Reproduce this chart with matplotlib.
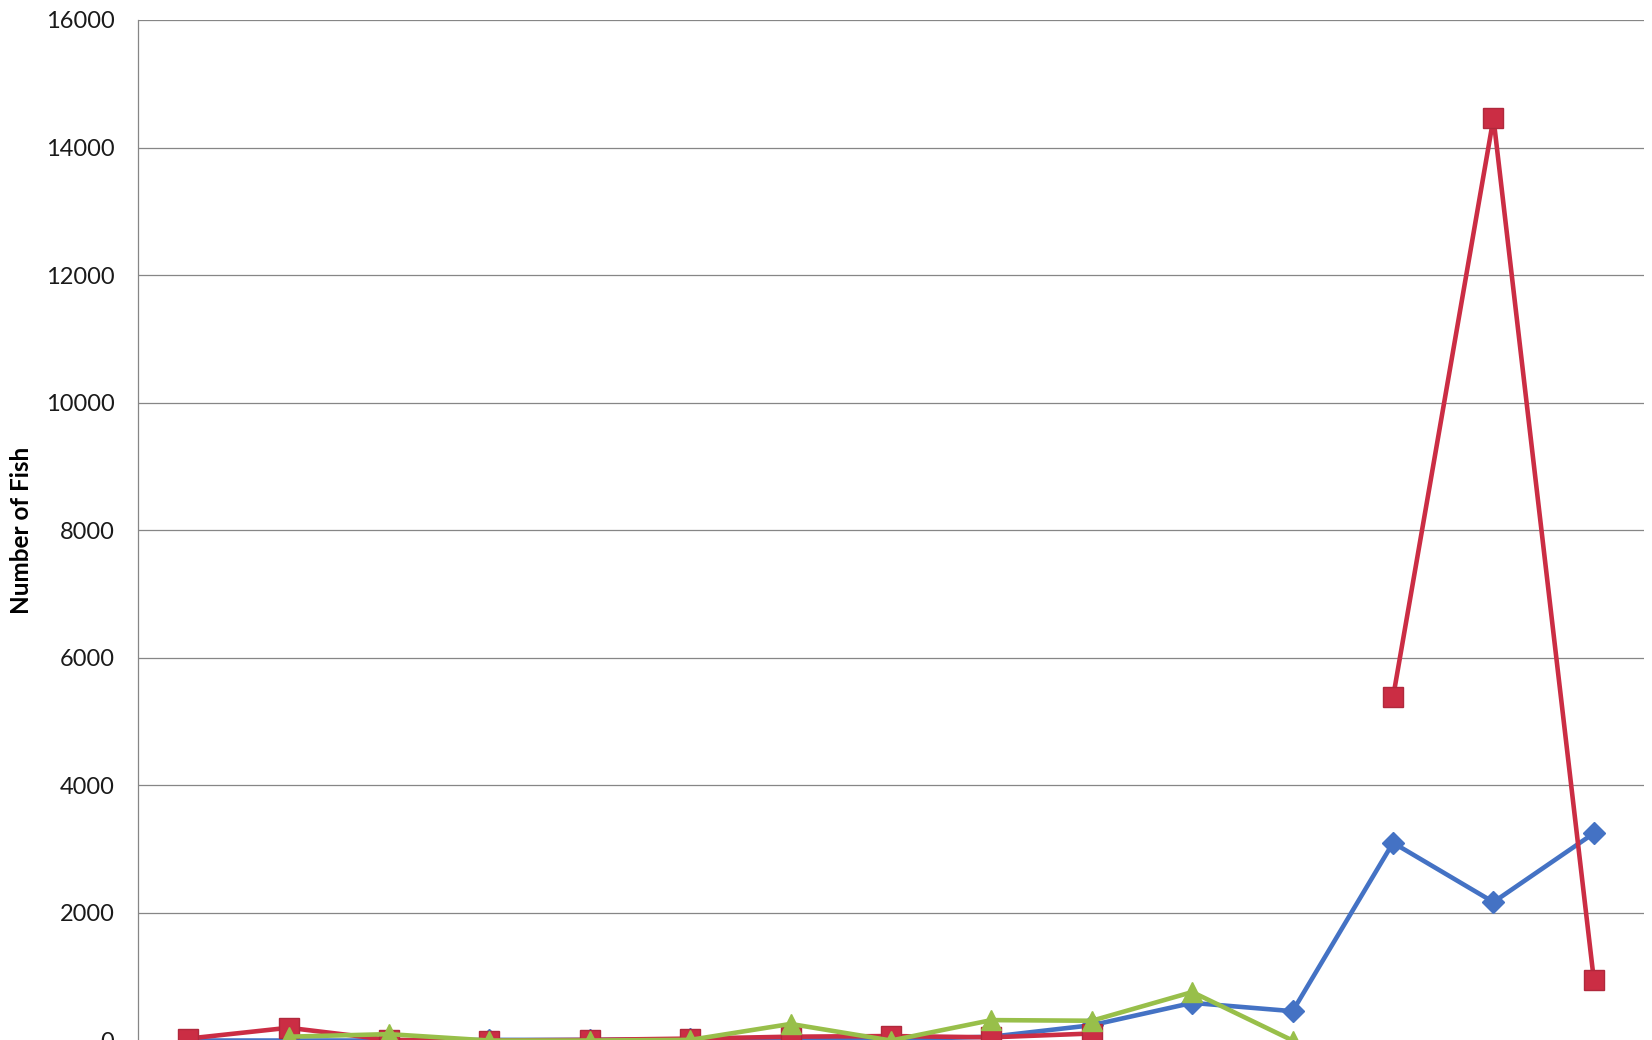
import numpy as np
import matplotlib
matplotlib.use("Agg")
import matplotlib.pyplot as plt

plt.rcParams['font.family'] = ['Lato', 'DejaVu Sans']

# sampling events along the x axis (labels not shown)
events = list(range(1, 16))

# fish counts per series, nan where a series has no value
blue_counts = [0, 0, 0, 10, 10, 20, 20, 20, 60, 240, 590, 460, 3100, 2170, 3250]
red_counts = [30, 200, 10, 0, 10, 30, 60, 70, 50, 110, np.nan, np.nan, 5380, 14460, 950]
green_counts = [np.nan, 60, 100, 0, 0, 10, 260, 0, 320, 310, 760, 0, np.nan, np.nan, np.nan]

yticks = list(range(0, 16001, 2000))

fig = plt.figure(figsize=(16.52, 10.40), dpi=100)
ax = fig.add_axes([0.0835, -0.0005, 0.9117, 0.9813])

x = np.arange(len(events))
ax.plot(x, blue_counts, color='#4472C4', lw=3.3, marker='D', ms=11,
        mfc='#4472C4', mec='#4472C4', zorder=3)
ax.plot(x, red_counts, color='#CB2D44', lw=3.3, marker='s', ms=14,
        mfc='#CB2D44', mec='#B0283C', zorder=4)
ax.plot(x, green_counts, color='#98BF4A', lw=3.3, marker='^', ms=14,
        mfc='#98BF4A', mec='#98BF4A', zorder=5)

ax.set_xlim(-0.5, len(events) - 0.5)
ax.set_ylim(0, 16000)
ax.set_yticks(yticks)
ax.set_yticklabels([str(t) for t in yticks], fontsize=17, color='#1a1a1a')
ax.set_xticks([])
ax.tick_params(axis='y', length=0, pad=17)

ax.grid(axis='y', color='#868686', lw=0.9)
ax.set_axisbelow(True)
for side in ['top', 'right', 'bottom']:
    ax.spines[side].set_visible(False)
ax.spines['left'].set_color('#868686')
ax.spines['left'].set_linewidth(0.9)

ax.set_ylabel('Number of Fish', fontsize=17.5, fontweight='bold')
ax.yaxis.set_label_coords(-0.0697, 0.5)

fig.savefig('out.png', dpi=100)
